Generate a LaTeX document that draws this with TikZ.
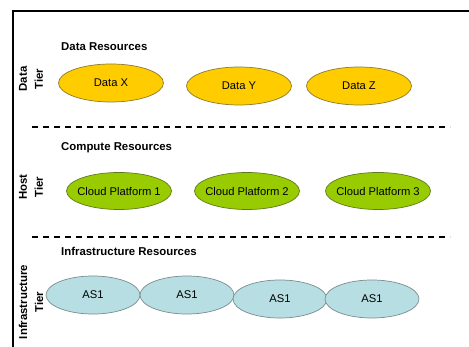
\documentclass[tikz,border=0pt]{standalone}
\usepackage{fontspec}
\setmainfont{Liberation Sans}
\usetikzlibrary{shapes.geometric}

\definecolor{dataFill}{HTML}{FFCC00}
\definecolor{dataLine}{HTML}{8C7A2E}
\definecolor{hostFill}{HTML}{99CC00}
\definecolor{hostLine}{HTML}{5E7A1E}
\definecolor{infraFill}{HTML}{B7DEE2}
\definecolor{infraLine}{HTML}{7A8C8E}

% text that does not widen its ellipse
\newcommand{\inside}[1]{\makebox[0pt]{#1}}

\tikzset{
	res/.style = {ellipse, inner sep = 0pt, line width = 0.7pt, font = \fontsize{11.2}{13}\selectfont},
	datares/.style = {res, draw = dataLine, fill = dataFill, minimum width = 105pt, minimum height = 38pt},
	hostres/.style = {res, draw = hostLine, fill = hostFill, minimum width = 105pt, minimum height = 37pt},
	infrares/.style = {res, draw = infraLine, fill = infraFill, minimum width = 94pt, minimum height = 38pt},
	heading/.style = {anchor = west, inner sep = 0pt, font = \fontsize{11.4}{13}\selectfont\bfseries},
	tierlabel/.style = {rotate = 90, align = center, inner sep = 0pt, font = \fontsize{11.4}{16}\selectfont\bfseries},
	tiersep/.style = {line width = 1.3pt, dash pattern = on 6pt off 5pt}
}

\begin{document}
\begin{tikzpicture}[x = 1pt, y = -1pt]
			\useasboundingbox (0,0) rectangle (469,347);

			\begin{scope}
				\draw [line width = 2pt] (13,347) -- (13,11) -- (469,11);
			\end{scope}

			\coordinate (sepA west) at (32,127);
			\coordinate (sepA east) at (450,127);
			\coordinate (sepB west) at (32,237);
			\coordinate (sepB east) at (450,237);

			\begin{scope}
				\draw [tiersep] (sepA west) -- (sepA east);
				\draw [tiersep] (sepB west) -- (sepB east);
			\end{scope}

			\begin{scope}
				\node [tierlabel] (dataTier) at (31,79) {Data\\Tier};
				\node [tierlabel] (hostTier) at (31,187) {Host\\Tier};
				\node [tierlabel] (infraTier) at (31,302) {Infrastructure\\Tier};
			\end{scope}

			\begin{scope}
				\node [heading] (dataHead) at (61,47) {Data Resources};
				\node [heading] (hostHead) at (61,148) {Compute Resources};
				\node [heading] (infraHead) at (61,251) {Infrastructure Resources};
			\end{scope}

			\begin{scope}
				\node [datares] (dataX) at (111,83) {\inside{Data X}};
				\node [datares] (dataY) at (239,86) {\inside{Data Y}};
				\node [datares] (dataZ) at (359,86) {\inside{Data Z}};
			\end{scope}

			\begin{scope}
				\foreach \x/\n in {119/1, 247/2, 378/3}
				{
					\node [hostres] (cloud\n) at (\x,191) {\inside{Cloud Platform \n}};
				}
			\end{scope}

			\begin{scope}
				\foreach \x/\y [count = \i] in {93/295, 187/295, 280/299, 372/299}
				{
					\node [infrares] (as\i) at (\x,\y) {\inside{AS1}};
				}
			\end{scope}
		\end{tikzpicture}
\end{document}
